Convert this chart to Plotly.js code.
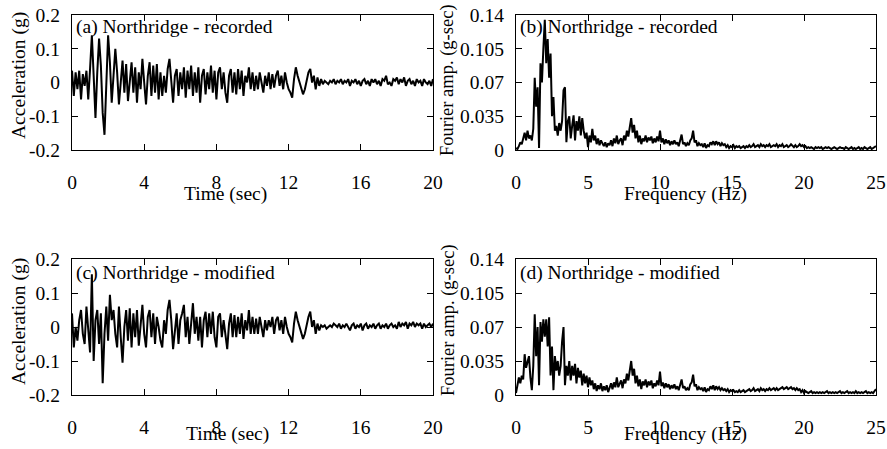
<!DOCTYPE html>
<html>
<head>
<meta charset="utf-8">
<script src="https://cdn.plot.ly/plotly-3.0.1.min.js"></script>
<style>html,body{margin:0;padding:0;background:#fff;}#chart{width:887px;height:449px;}</style>
</head>
<body>
<div id="chart"></div>
<script>
// ---- Data ----
const timeStep = 0.1;   // s
const freqStep = 0.1;   // Hz

const accRecorded = [
 0.035,-0.04,0.03,-0.02,0.035,-0.05,0.025,-0.01,0.035,-0.05,
 0.04,0.14,0.02,-0.105,0.03,0.13,0.05,-0.09,-0.155,0.02,
 0.14,0.06,-0.06,0.02,0.1,0.03,-0.065,0.0,0.065,-0.03,
 0.055,-0.055,0.01,0.06,-0.03,0.045,-0.06,0.03,-0.02,0.07,
 0.0,-0.065,0.02,0.06,-0.04,0.05,-0.03,0.055,-0.05,0.03,
 -0.04,0.02,-0.03,0.04,0.07,0.0,-0.06,0.02,0.04,-0.04,
 0.03,-0.02,0.045,-0.045,0.035,-0.02,0.05,-0.04,0.03,-0.03,
 0.045,-0.06,0.02,0.04,-0.035,0.03,-0.02,0.05,-0.03,0.035,
 -0.05,0.03,0.045,-0.02,0.03,-0.03,-0.06,0.02,0.04,-0.03,
 0.03,-0.035,0.04,-0.02,0.035,-0.04,0.02,0.0,0.045,-0.02,
 0.03,-0.025,0.02,-0.02,0.03,0.0,-0.03,0.02,-0.01,0.03,
 -0.02,0.025,-0.015,0.02,0.035,-0.01,0.02,-0.02,0.03,0.0,
 -0.02,-0.03,-0.045,0.01,0.045,0.02,0.0,-0.02,-0.035,-0.02,
 0.01,0.03,0.04,0.0,0.02,-0.02,0.015,-0.01,0.01,-0.005,
 0.005,0.0,-0.005,0.005,0.0,0.01,-0.005,0.005,0.0,0.01,
 -0.005,0.005,0.0,0.01,-0.01,0.005,0.0,0.01,-0.005,0.005,
 -0.01,0.005,0.01,-0.005,0.005,-0.01,0.01,0.0,0.01,-0.005,
 0.005,-0.01,0.01,0.005,0.02,-0.005,0.0,-0.01,0.01,0.005,
 0.015,-0.005,0.01,0.0,0.015,-0.01,0.005,0.01,-0.005,0.005,
 -0.01,0.01,0.0,0.005,-0.01,0.01,0.0,-0.005,0.005,-0.01,
 0.01
];

const accModified = [
 0.04,-0.06,0.0,-0.04,0.02,0.05,-0.02,-0.05,0.06,0.0,
 -0.075,0.155,-0.1,0.02,0.05,-0.05,0.04,-0.165,-0.02,0.06,
 -0.04,0.095,0.02,0.05,-0.02,-0.06,0.06,-0.03,-0.105,0.0,
 0.05,-0.04,0.055,-0.06,0.04,-0.03,0.05,-0.055,0.02,0.065,
 -0.02,-0.06,0.03,0.05,-0.03,0.04,-0.05,0.03,0.0,-0.04,
 -0.06,0.02,-0.02,0.05,0.08,0.02,-0.065,0.0,0.04,-0.05,
 0.02,0.04,0.065,-0.03,0.03,-0.05,0.02,0.07,-0.02,0.03,
 -0.04,0.03,-0.06,0.02,0.045,-0.03,0.04,-0.02,0.045,-0.03,
 -0.06,0.03,0.04,-0.03,0.02,-0.02,-0.065,0.01,0.04,-0.03,
 0.035,-0.03,0.03,-0.02,0.04,-0.035,0.02,-0.01,0.05,-0.02,
 0.03,-0.02,0.025,-0.02,0.03,0.0,-0.03,0.02,-0.01,0.02,
 0.0,0.03,-0.02,0.02,0.03,-0.01,0.02,-0.02,0.03,0.0,
 -0.02,-0.03,-0.045,0.01,0.045,0.02,0.0,-0.02,-0.035,-0.02,
 0.01,0.03,0.045,0.0,0.02,-0.02,0.01,-0.01,0.005,0.0,
 0.005,-0.005,0.0,0.005,0.0,0.01,0.005,0.0,0.01,-0.005,
 0.005,0.0,0.01,0.0,-0.01,0.005,0.01,-0.005,0.005,0.0,
 0.01,-0.01,0.005,0.01,-0.005,0.005,0.0,0.01,-0.005,0.005,
 0.01,-0.005,0.005,0.0,0.01,-0.005,0.005,0.01,0.0,0.005,
 -0.005,0.015,0.0,0.01,0.005,0.015,-0.005,0.01,0.005,0.015,
 0.0,0.01,0.005,0.01,-0.005,0.01,0.0,0.005,0.01,0.0,
 0.01
];

const fourierRecorded = [
 0.002,0.001,0.004,0.008,0.006,0.012,0.018,0.01,0.02,0.012,
 0.015,0.01,0.022,0.075,0.045,0.065,0.002,0.09,0.07,0.105,
 0.135,0.09,0.115,0.075,0.1,0.035,0.055,0.02,0.025,0.015,
 0.028,0.02,0.03,0.062,0.065,0.008,0.03,0.035,0.012,0.025,
 0.036,0.01,0.03,0.02,0.035,0.015,0.033,0.02,0.012,0.018,
 0.003,0.015,0.008,0.022,0.01,0.015,0.006,0.012,0.005,0.01,
 0.006,0.004,0.008,0.003,0.007,0.005,0.01,0.004,0.012,0.007,
 0.015,0.006,0.01,0.012,0.005,0.015,0.01,0.02,0.014,0.024,
 0.033,0.018,0.026,0.012,0.02,0.008,0.015,0.006,0.012,0.009,
 0.015,0.008,0.013,0.01,0.014,0.007,0.012,0.008,0.014,0.009,
 0.02,0.008,0.012,0.006,0.011,0.007,0.01,0.005,0.009,0.006,
 0.01,0.006,0.008,0.004,0.009,0.016,0.006,0.008,0.004,0.007,
 0.005,0.01,0.012,0.02,0.008,0.01,0.004,0.007,0.005,0.006,
 0.003,0.007,0.002,0.005,0.004,0.008,0.006,0.009,0.005,0.009,
 0.006,0.008,0.004,0.007,0.005,0.006,0.003,0.005,0.002,0.004,
 0.003,0.005,0.002,0.004,0.003,0.004,0.002,0.003,0.004,0.002,
 0.004,0.003,0.005,0.003,0.004,0.006,0.003,0.004,0.005,0.003,
 0.006,0.004,0.005,0.003,0.005,0.004,0.006,0.003,0.004,0.005,
 0.004,0.006,0.003,0.005,0.004,0.006,0.003,0.004,0.005,0.003,
 0.004,0.006,0.004,0.003,0.005,0.003,0.004,0.006,0.004,0.005,
 0.003,0.004,0.002,0.003,0.002,0.003,0.002,0.001,0.003,0.002,
 0.003,0.002,0.003,0.001,0.002,0.003,0.002,0.003,0.002,0.001,
 0.002,0.003,0.002,0.001,0.002,0.003,0.002,0.002,0.001,0.003,
 0.002,0.001,0.002,0.003,0.001,0.002,0.001,0.002,0.003,0.001,
 0.002,0.001,0.003,0.002,0.001,0.002,0.003,0.001,0.002,0.003,
 0.004
];

const fourierModified = [
 0.002,0.01,0.018,0.012,0.02,0.016,0.042,0.028,0.035,0.04,
 0.018,0.005,0.03,0.083,0.04,0.07,0.01,0.075,0.055,0.078,
 0.06,0.078,0.05,0.08,0.02,0.05,0.005,0.04,0.025,0.035,
 0.02,0.03,0.055,0.07,0.01,0.03,0.02,0.035,0.015,0.03,
 0.02,0.032,0.012,0.028,0.018,0.025,0.01,0.022,0.012,0.02,
 0.008,0.018,0.01,0.015,0.006,0.012,0.004,0.01,0.006,0.012,
 0.004,0.009,0.005,0.01,0.003,0.008,0.012,0.006,0.013,0.008,
 0.018,0.008,0.012,0.015,0.007,0.016,0.012,0.022,0.015,0.026,
 0.035,0.02,0.027,0.012,0.02,0.009,0.016,0.006,0.014,0.01,
 0.016,0.008,0.014,0.01,0.015,0.007,0.012,0.009,0.015,0.01,
 0.024,0.009,0.013,0.007,0.012,0.008,0.011,0.006,0.01,0.007,
 0.011,0.006,0.009,0.005,0.01,0.016,0.007,0.009,0.005,0.007,
 0.005,0.011,0.013,0.021,0.009,0.011,0.005,0.008,0.006,0.007,
 0.004,0.008,0.003,0.006,0.005,0.009,0.006,0.01,0.005,0.009,
 0.006,0.008,0.005,0.007,0.005,0.006,0.004,0.006,0.003,0.005,
 0.004,0.005,0.003,0.004,0.003,0.005,0.003,0.004,0.005,0.003,
 0.004,0.005,0.006,0.004,0.005,0.007,0.004,0.005,0.006,0.004,
 0.007,0.005,0.006,0.004,0.006,0.005,0.007,0.005,0.006,0.007,
 0.005,0.007,0.005,0.006,0.007,0.008,0.006,0.007,0.008,0.006,
 0.007,0.008,0.006,0.007,0.005,0.007,0.005,0.006,0.003,0.005,
 0.002,0.004,0.003,0.002,0.003,0.004,0.002,0.003,0.002,0.003,
 0.002,0.003,0.002,0.003,0.002,0.003,0.004,0.002,0.003,0.002,
 0.003,0.002,0.003,0.002,0.003,0.004,0.002,0.003,0.002,0.003,
 0.004,0.002,0.003,0.002,0.003,0.002,0.004,0.002,0.003,0.002,
 0.003,0.002,0.003,0.004,0.002,0.003,0.002,0.003,0.002,0.004,
 0.006
];

const timeTicks = [0, 4, 8, 12, 16, 20];
const timeTickText = ["0", "4", "8", "12", "16", "20"];
const accTicks = [-0.2, -0.1, 0, 0.1, 0.2];
const accTickText = ["-0.2", "-0.1", "0", "0.1", "0.2"];
const freqTicks = [0, 5, 10, 15, 20, 25];
const freqTickText = ["0", "5", "10", "15", "20", "25"];
const ampTicks = [0, 0.035, 0.07, 0.105, 0.14];
const ampTickText = ["0", "0.035", "0.07", "0.105", "0.14"];

const panelLabels = ["(a) Northridge - recorded", "(b) Northridge - recorded",
                     "(c) Northridge - modified", "(d) Northridge - modified"];
const timeTitle = "Time (sec)";
const freqTitle = "Frequency (Hz)";
const accTitle = "Acceleration (g)";
const ampTitle = "Fourier amp. (g-sec)";

// ---- Build ----
const time = accRecorded.map((_, i) => +(i * timeStep).toFixed(3));
const freq = fourierRecorded.map((_, i) => +(i * freqStep).toFixed(3));

const W = 887, H = 449;
const FONT = "Liberation Serif, Times New Roman, serif";
const FS = 19.5;
const px = v => v / W;
const py = v => 1 - v / H;

const lineStyle = {color: "#000", width: 2};
const traces = [
  {x: time, y: accRecorded, xaxis: "x", yaxis: "y", mode: "lines", line: lineStyle},
  {x: freq, y: fourierRecorded, xaxis: "x2", yaxis: "y2", mode: "lines", line: lineStyle},
  {x: time, y: accModified, xaxis: "x3", yaxis: "y3", mode: "lines", line: lineStyle},
  {x: freq, y: fourierModified, xaxis: "x4", yaxis: "y4", mode: "lines", line: lineStyle}
];

function axis(domain, range, tv, tt, anchor, standoff) {
  return {
    domain: domain, range: range, anchor: anchor,
    tickmode: "array", tickvals: tv, ticktext: tt,
    ticks: "inside", ticklen: 6, tickwidth: 1, tickcolor: "#000",
    showline: true, linecolor: "#000", linewidth: 1.2, mirror: "ticks",
    showgrid: false, zeroline: false,
    tickfont: {family: FONT, size: FS, color: "#000"},
    ticklabelstandoff: standoff,
    fixedrange: true
  };
}

const xa = [px(72), px(433)], xb = [px(516), px(876)];
const yTop = [py(150), py(15)], yBot = [py(395), py(259)];

const layout = {
  width: W, height: H,
  margin: {l: 0, r: 0, t: 0, b: 0},
  paper_bgcolor: "#fff", plot_bgcolor: "#fff",
  showlegend: false,
  font: {family: FONT, size: FS, color: "#000"},
  xaxis:  axis(xa, [0, 20], timeTicks, timeTickText, "y", 14),
  yaxis:  axis(yTop, [-0.2, 0.2], accTicks, accTickText, "x", 7),
  xaxis2: axis(xb, [0, 25], freqTicks, freqTickText, "y2", 14),
  yaxis2: axis(yTop, [0, 0.14], ampTicks, ampTickText, "x2", 7),
  xaxis3: axis(xa, [0, 20], timeTicks, timeTickText, "y3", 14),
  yaxis3: axis(yBot, [-0.2, 0.2], accTicks, accTickText, "x3", 7),
  xaxis4: axis(xb, [0, 25], freqTicks, freqTickText, "y4", 14),
  yaxis4: axis(yBot, [0, 0.14], ampTicks, ampTickText, "x4", 7),
  annotations: [
    {text: panelLabels[0], x: px(74), y: py(27), xanchor: "left", yanchor: "middle"},
    {text: panelLabels[1], x: px(518), y: py(27), xanchor: "left", yanchor: "middle"},
    {text: panelLabels[2], x: px(74), y: py(273), xanchor: "left", yanchor: "middle"},
    {text: panelLabels[3], x: px(518), y: py(273), xanchor: "left", yanchor: "middle"},
    {text: timeTitle, x: px(225), y: py(194), xanchor: "center", yanchor: "middle"},
    {text: freqTitle, x: px(685), y: py(194), xanchor: "center", yanchor: "middle"},
    {text: timeTitle, x: px(228), y: py(434), xanchor: "center", yanchor: "middle"},
    {text: freqTitle, x: px(685), y: py(434), xanchor: "center", yanchor: "middle"},
    {text: accTitle, x: px(19), y: py(76), textangle: -90, xanchor: "center", yanchor: "middle"},
    {text: accTitle, x: px(19), y: py(322), textangle: -90, xanchor: "center", yanchor: "middle"},
    {text: ampTitle, x: px(448), y: py(80), textangle: -90, xanchor: "center", yanchor: "middle", font: {family: FONT, size: 18.5, color: "#000"}},
    {text: ampTitle, x: px(448), y: py(320), textangle: -90, xanchor: "center", yanchor: "middle", font: {family: FONT, size: 18.5, color: "#000"}}
  ].map(a => Object.assign({xref: "paper", yref: "paper", showarrow: false,
                            font: {family: FONT, size: FS, color: "#000"}}, a))
};

Plotly.newPlot("chart", traces, layout, {displayModeBar: false, staticPlot: true});
</script>
</body>
</html>
